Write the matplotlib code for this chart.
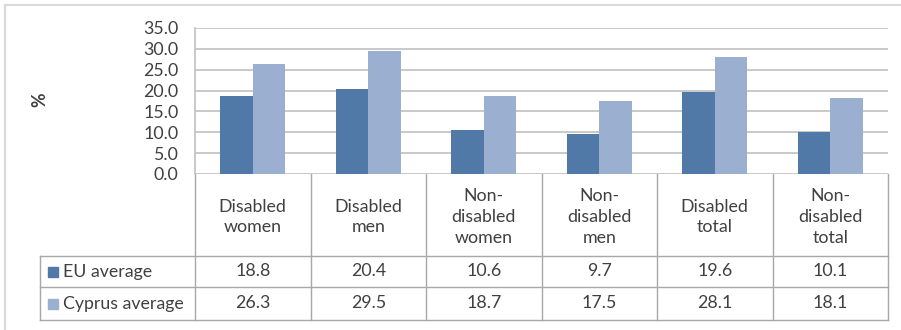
import matplotlib.pyplot as plt
from matplotlib.lines import Line2D
from matplotlib.patches import Rectangle
import numpy as np

# data
categories = ["Disabled\nwomen", "Disabled\nmen", "Non-\ndisabled\nwomen",
              "Non-\ndisabled\nmen", "Disabled\ntotal", "Non-\ndisabled\ntotal"]
series_names = ["EU average", "Cyprus average"]
eu_avg = [18.8, 20.4, 10.6, 9.7, 19.6, 10.1]
cy_avg = [26.3, 29.5, 18.7, 17.5, 28.1, 18.1]
yticks = [0, 5, 10, 15, 20, 25, 30, 35]

col_eu = "#5079A8"
col_cy = "#9BB0D1"
grid_col = "#C0C0C0"
tab_col = "#A8A8A8"
txt_col = "#404040"

plt.rcParams['font.family'] = ['Lato', 'DejaVu Sans']
fs = 12.8

W, H = 901, 330
fig = plt.figure(figsize=(W / 100, H / 100), dpi=100)

# pixel overlay for frame and table
ov = fig.add_axes([0, 0, 1, 1])
ov.set_xlim(0, W)
ov.set_ylim(H, 0)
ov.axis('off')

# plot area in pixels
x0, x1 = 195, 888
ytop, ybot = 28, 174
ax = fig.add_axes([x0 / W, (H - ybot) / H, (x1 - x0) / W, (ybot - ytop) / H])

n = len(categories)
x = np.arange(n)
bw = 0.28
ax.bar(x - bw / 2, eu_avg, bw, color=col_eu, zorder=3)
ax.bar(x + bw / 2, cy_avg, bw, color=col_cy, zorder=3)
ax.set_xlim(-0.5, n - 0.5)
ax.set_ylim(0, 35)
ax.set_yticks(yticks)
ax.set_yticklabels(["%.1f" % v for v in yticks], fontsize=fs, color=txt_col)
ax.tick_params(axis='y', length=0, pad=12)
ax.set_xticks([])
for v in yticks:
    ax.axhline(v, color=grid_col, lw=1.2, zorder=1)
for s in ['top', 'right', 'bottom']:
    ax.spines[s].set_visible(False)
ax.spines['left'].set_color(grid_col)
ax.spines['left'].set_linewidth(1.2)

# y label
ov.text(40, 100, "%", rotation=90, ha='center', va='center',
        fontsize=fs, color=txt_col, fontweight='bold')

# outer frame
ov.add_line(Line2D([5, 5], [5, H], color="#D9D9D9", lw=1.5))
ov.add_line(Line2D([5, W], [5, 5], color="#D9D9D9", lw=1.5))

# table
cw = (x1 - x0) / n
row_h, row1, row2 = 256, 287, 320
tx0 = 40
for i in range(n + 1):
    xp = x0 + i * cw
    ov.add_line(Line2D([xp, xp], [ybot, row2], color=tab_col, lw=1))
ov.add_line(Line2D([tx0, tx0], [row_h, row2], color=tab_col, lw=1))
for yp in [row_h, row1, row2]:
    ov.add_line(Line2D([tx0, x1], [yp, yp], color=tab_col, lw=1))

for i, lab in enumerate(categories):
    xc = x0 + (i + 0.5) * cw
    ov.text(xc, (ybot + row_h) / 2 + 2, lab, ha='center', va='center',
            fontsize=fs, color=txt_col, linespacing=1.35)
    ov.text(xc, (row_h + row1) / 2, "%.1f" % eu_avg[i], ha='center',
            va='center', fontsize=fs, color=txt_col)
    ov.text(xc, (row1 + row2) / 2, "%.1f" % cy_avg[i], ha='center',
            va='center', fontsize=fs, color=txt_col)

for name, col, (ya, yb) in zip(series_names, [col_eu, col_cy],
                               [(row_h, row1), (row1, row2)]):
    yc = (ya + yb) / 2
    ov.add_patch(Rectangle((48, yc - 5), 10, 10, color=col))
    ov.text(63, yc, name, ha='left', va='center', fontsize=fs, color=txt_col)

fig.savefig("out.png", dpi=100)
